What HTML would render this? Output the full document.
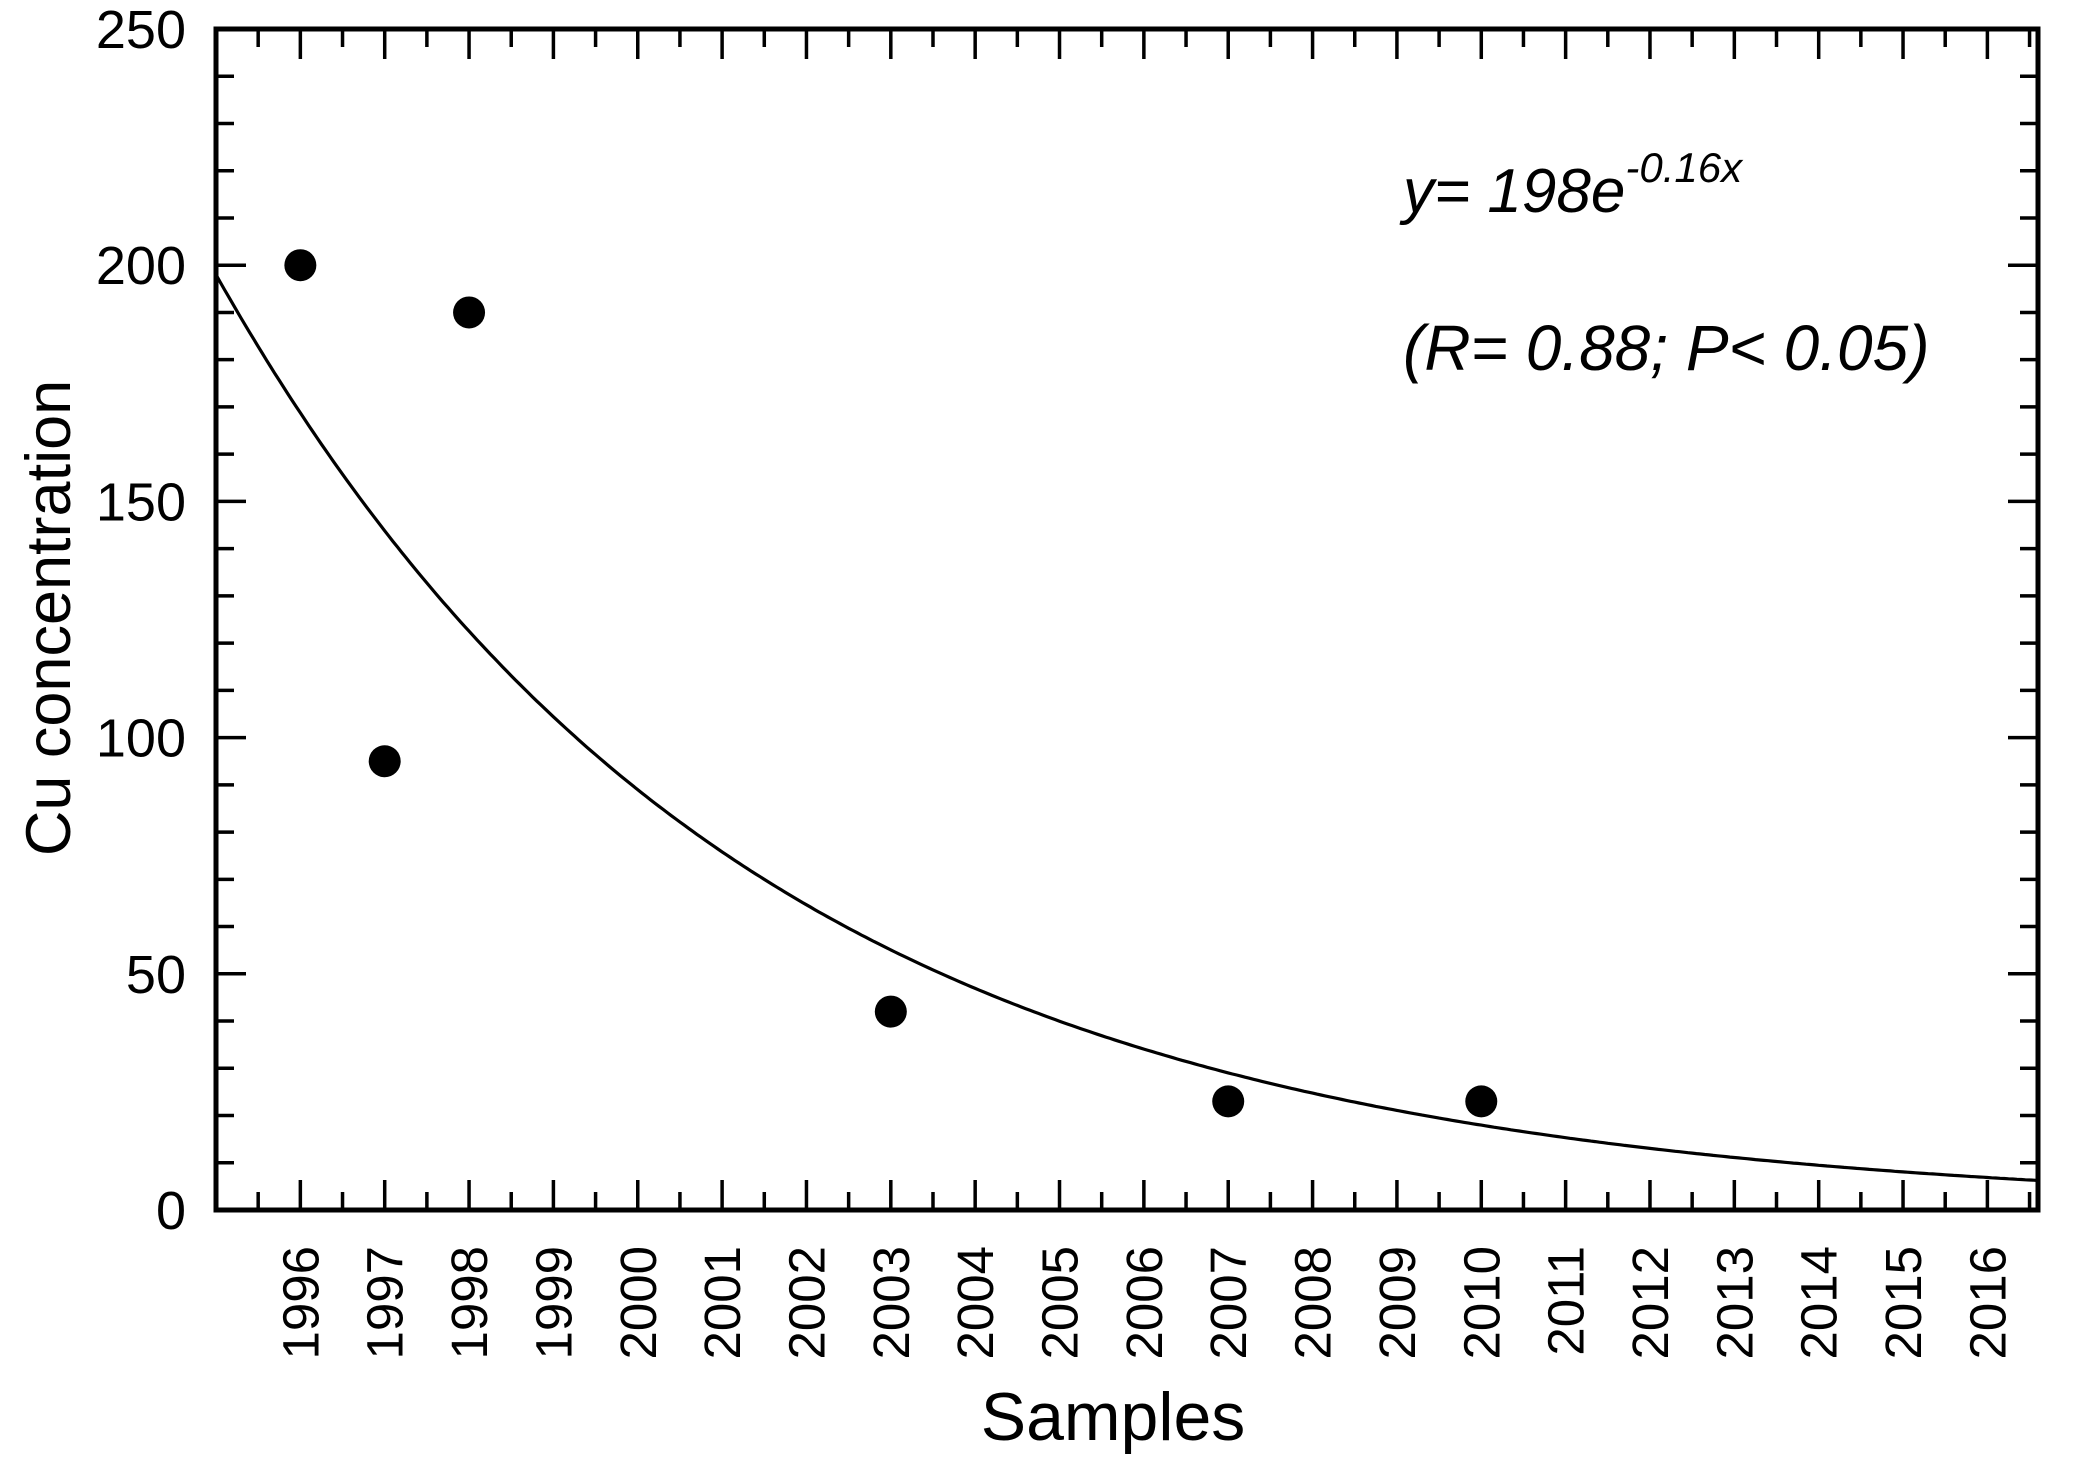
<!DOCTYPE html>
<html><head><meta charset="utf-8"><style>
body{margin:0;background:#fff}
svg{display:block}
text{font-family:"Liberation Sans",Arial,sans-serif;fill:#000}
</style></head><body>
<svg id="chart" width="2087" height="1462" viewBox="0 0 2087 1462" xmlns="http://www.w3.org/2000/svg">
<g id="axes"></g><g id="marks"></g>
<text x="1403" y="212" font-size="62" font-style="italic">y= 198e<tspan dy="-30" font-size="42">-0.16x</tspan></text>
<text x="1403" y="370" font-size="64" font-style="italic">(R= 0.88; P&lt; 0.05)</text>
<text x="1113" y="1440" font-size="68" text-anchor="middle">Samples</text>
<text transform="translate(70,618) rotate(-90)" font-size="63" text-anchor="middle">Cu concentration</text>
</svg>
<script>
const years = [1996,1997,1998,2003,2007,2010];
const cuValues = [200,95,190,42,23,23];
const yTicks = [0,50,100,150,200,250];
const xTickLabels = [1996,1997,1998,1999,2000,2001,2002,2003,2004,2005,2006,2007,2008,2009,2010,2011,2012,2013,2014,2015,2016];
const fitA = 198, fitK = 0.16, fitX0 = 1995;

const L=216,R=2038,T=29,B=1210;
const xMin=1995.0,xMax=2016.6,yMin=0,yMax=250;
const X=v=>L+(v-xMin)/(xMax-xMin)*(R-L);
const Y=v=>B-(v-yMin)/(yMax-yMin)*(B-T);
const NS='http://www.w3.org/2000/svg';
const axes=document.getElementById('axes'), marks=document.getElementById('marks');
function mk(tag,attrs,parent){const e=document.createElementNS(NS,tag);for(const k in attrs)e.setAttribute(k,attrs[k]);parent.appendChild(e);return e;}

const frame=mk('rect',{x:L,y:T,width:R-L,height:B-T,fill:'none',stroke:'#000','stroke-width':5},axes);



for(let v=0;v<=250;v+=10){
  const major=v%50===0, len=major?30:18, y=Y(v);
  const t1=mk('line',{x1:L,x2:L+len,y1:y,y2:y,stroke:'#000','stroke-width':3.5},axes);
  
  
  const t2=mk('line',{x1:R,x2:R-len,y1:y,y2:y,stroke:'#000','stroke-width':3.5},axes);
  
  
}
yTicks.forEach(v=>{
  const t=mk('text',{x:L-30,y:Y(v)+19,'font-size':54,'text-anchor':'end'},axes);
  t.textContent=v;
  
  
});
for(let v=1995.5;v<xMax;v+=0.5){
  const major=Math.abs(v-Math.round(v))<1e-6, len=major?30:18, x=X(v);
  const t1=mk('line',{x1:x,x2:x,y1:B,y2:B-len,stroke:'#000','stroke-width':3.5},axes);
  
  
  const t2=mk('line',{x1:x,x2:x,y1:T,y2:T+len,stroke:'#000','stroke-width':3.5},axes);
  
  
}
xTickLabels.forEach(v=>{
  const x=X(v)+18;
  const t=mk('text',{transform:`translate(${x},1246) rotate(-90)`,'font-size':51,'text-anchor':'end'},axes);
  t.textContent=v;
  
  
});

let d='';
for(let v=xMin;v<=xMax+1e-9;v+=0.05){
  const yv=fitA*Math.exp(-fitK*(v-fitX0));
  d+=(d?'L':'M')+X(v).toFixed(1)+','+Y(yv).toFixed(1);
}
const curve=mk('path',{d:d,fill:'none',stroke:'#000','stroke-width':3.2},marks);



years.forEach((yr,i)=>{
  const c=mk('circle',{cx:X(yr),cy:Y(cuValues[i]),r:16,fill:'#000'},marks);
  
  
});
</script>
</body></html>
